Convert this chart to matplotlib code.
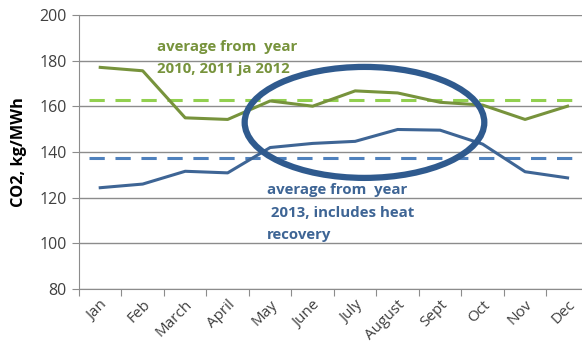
import matplotlib.pyplot as plt
from matplotlib.patches import Ellipse
import numpy as np

plt.rcParams['font.family'] = ['Open Sans', 'DejaVu Sans']

months = ['Jan', 'Feb', 'March', 'April', 'May', 'June', 'July',
          'August', 'Sept', 'Oct', 'Nov', 'Dec']
co2_2010_2012 = [177.1, 175.6, 155.0, 154.3, 162.4, 160.1, 166.8,
                 165.9, 161.8, 160.6, 154.3, 160.1]
co2_2013 = [124.4, 126.0, 131.6, 130.9, 142.0, 143.8, 144.7,
            149.9, 149.6, 143.5, 131.4, 128.7]
avg_2010_2012 = 162.6
avg_2013 = 137.4

green = '#77933C'
blue = '#3E6595'

fig = plt.figure(figsize=(5.82, 3.53), dpi=100)
ax = fig.add_axes([0.1357, 0.181, 0.876, 0.7763])

x = np.arange(len(months))
ax.plot(x, co2_2010_2012, color=green, lw=2.2, zorder=3)
ax.plot(x, co2_2013, color=blue, lw=2.2, zorder=3)
ax.axhline(avg_2010_2012, xmin=0.02, xmax=0.98, color='#92D050', lw=2.2,
           dashes=(5, 3.5), zorder=2)
ax.axhline(avg_2013, xmin=0.02, xmax=0.98, color='#4F81BD', lw=2.2,
           dashes=(5, 3.5), zorder=2)

# highlight around the summer months
ax.add_patch(Ellipse((6.22, 153.0), 5.64, 48.6, fill=False,
                     edgecolor='#2F5A8E', lw=4.5, zorder=4))

green_lines = ['average from  year', '2010, 2011 ja 2012']
for i, line in enumerate(green_lines):
    ax.text(1.34, 186.0 - 9.7 * i, line, color=green, fontsize=10.8,
            fontweight='bold', va='center', ha='left', zorder=5)

blue_lines = ['average from  year', ' 2013, includes heat', 'recovery']
for i, line in enumerate(blue_lines):
    ax.text(3.93, 123.3 - 9.9 * i, line, color=blue, fontsize=10.8,
            fontweight='bold', va='center', ha='left', zorder=5)

ax.set_xlim(-0.5, 11.5)
ax.set_ylim(80, 200)
ax.set_yticks(range(80, 201, 20))
ax.set_xticks(np.arange(-0.5, 12, 1), minor=False)
ax.set_xticklabels([])
ax.set_xticks(x, minor=True)
ax.set_xticklabels(months, minor=True, rotation=45, ha='right',
                   rotation_mode='anchor', fontsize=11, color='#404040')
ax.tick_params(axis='x', which='minor', length=0, pad=6)
ax.tick_params(axis='x', which='major', length=5, color='#8c8c8c')
ax.tick_params(axis='y', length=5, color='#8c8c8c', labelsize=11.5,
               labelcolor='#404040', pad=4)

ax.grid(axis='y', color='#8c8c8c', lw=1)
ax.set_axisbelow(True)
for side in ['top', 'right']:
    ax.spines[side].set_visible(False)
for side in ['left', 'bottom']:
    ax.spines[side].set_color('#8c8c8c')

ax.set_ylabel('CO2, kg/MWh', fontsize=11.8, fontweight='bold', labelpad=9)

fig.savefig('out.png', dpi=100)
